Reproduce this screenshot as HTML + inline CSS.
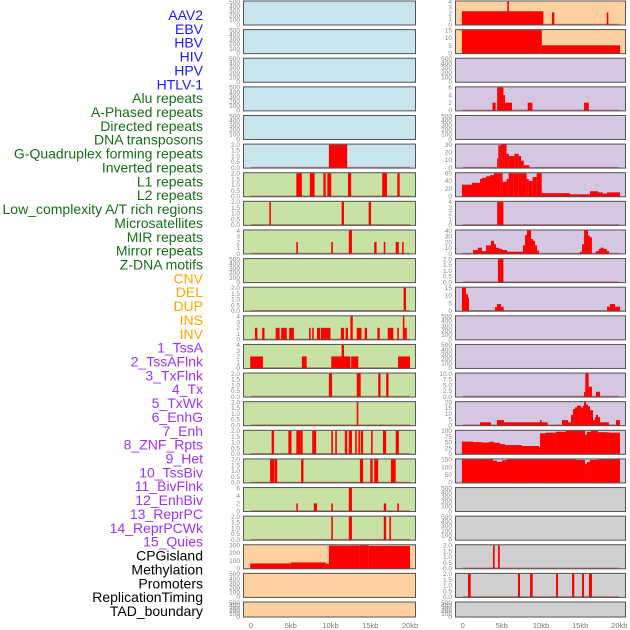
<!DOCTYPE html>
<html><head><meta charset="utf-8">
<style>
html,body{margin:0;padding:0;background:#fff;}
svg{display:block;font-family:"Liberation Sans",sans-serif;}
</style></head>
<body>
<svg id="chart" width="630" height="630" viewBox="0 0 630 630" xmlns="http://www.w3.org/2000/svg"></svg>
<script>
// ---------- data ----------
const trackLabels = ["AAV2","EBV","HBV","HIV","HPV","HTLV-1","Alu repeats","A-Phased repeats","Directed repeats","DNA transposons","G-Quadruplex forming repeats","Inverted repeats","L1 repeats","L2 repeats","Low_complexity A/T rich regions","Microsatellites","MIR repeats","Mirror repeats","Z-DNA motifs","CNV","DEL","DUP","INS","INV","1_TssA","2_TssAFlnk","3_TxFlnk","4_Tx","5_TxWk","6_EnhG","7_Enh","8_ZNF_Rpts","9_Het","10_TssBiv","11_BivFlnk","12_EnhBiv","13_ReprPC","14_ReprPCWk","15_Quies","CPGisland","Methylation","Promoters","ReplicationTiming","TAD_boundary"];
const labelColors = ["#1a1aff","#1a1aff","#1a1aff","#1a1aff","#1a1aff","#1a1aff","#157015","#157015","#157015","#157015","#157015","#157015","#157015","#157015","#157015","#157015","#157015","#157015","#157015","#ffa500","#ffa500","#ffa500","#ffa500","#ffa500","#a033ee","#a033ee","#a033ee","#a033ee","#a033ee","#a033ee","#a033ee","#a033ee","#a033ee","#a033ee","#a033ee","#a033ee","#a033ee","#a033ee","#a033ee","#000","#000","#000","#000","#000"];
const xTickValues = [0,5,10,15,20];
const xTickLabels = ["0","5kb","10kb","15kb","20kb"];

const T500=["0","100","200","300","400","500"], T2=["0.0","0.5","1.0","1.5","2.0"], T4=["0","1","2","3","4"];
const T6=["0","2","4","6"], T300=["0","100","200","300"], T15=["0","5","10","15"], T30=["0","10","20","30"];
const T60=["0","20","40","60"], T40=["0","10","20","30","40"], T10=["0.0","2.5","5.0","7.5","10.0"];
const T20=["0","5","10","15","20"], T100=["0","25","50","75","100"], T150=["0","50","100","150"];

// bars: [startKb, endKb, value]
const htlvBars=[[9.8,12.1,2]];
const aluBars=[[5.7,6.4,2],[7.4,8.0,2],[9.1,9.4,2],[9.6,10.1,2],[12.2,12.6,2],[16.5,17.1,2],[18.4,18.7,2]];
const aphasedBars=[[2.3,2.5,2],[11.4,11.7,2],[14.8,15.1,2]];
const directedBars=[[5.7,5.9,2],[10.1,10.3,2],[12.3,12.7,4],[15.5,15.8,2],[16.7,16.9,2],[18.2,18.6,2],[19.0,19.2,2]];
const gquadBars=[[19.2,19.5,2]];
const invertedBars=[[0.5,0.8,2],[1.4,1.7,2],[3.1,3.6,2],[3.8,4.5,2],[4.8,5.4,2],[7.3,7.5,2],[7.7,7.9,2],[8.3,8.7,2],[8.8,10.0,2],[11.3,11.7,2],[11.9,12.2,2],[12.5,12.8,4],[13.3,13.9,2],[14.3,14.6,2],[15.9,16.2,2],[17.2,17.9,2],[18.4,18.6,2],[19.1,19.3,4],[19.3,19.6,2]];
const lowcxBars=[[-0.1,1.5,2],[6.4,7.0,2],[10.1,12.5,2],[11.4,11.7,4],[12.6,13.5,2],[18.5,20.0,2]];
const microBars=[[9.8,10.2,2],[13.3,13.8,2],[16.0,16.3,2],[17.0,17.3,2]];
const mirBars=[[13.3,13.5,2]];
const mirrorBars=[[2.6,2.9,2],[4.7,5.1,2],[5.7,6.2,2],[6.2,6.5,2],[7.7,8.2,2],[10.1,10.3,2],[10.6,10.8,2],[11.8,12.1,2],[12.3,12.7,2],[13.1,13.3,2],[13.5,13.7,2],[13.8,14.1,2],[15.1,15.3,2],[16.6,17.0,2],[18.2,18.6,2]];
const zdnaBars=[[2.4,2.9,2],[2.95,3.3,2],[6.3,6.6,2],[13.7,14.1,2],[15.0,15.3,2],[15.5,16.0,2],[17.6,18.2,2]];
const cnvLeftBars=[[5.7,5.9,2],[7.9,8.3,2],[10.1,10.3,2],[12.3,12.7,6],[16.7,17.0,2],[18.4,18.6,2]];
const delLeftBars=[[10.1,10.3,2],[12.3,12.7,2],[16.7,17.0,2],[17.4,17.6,2]];
const orangeLeftBars=[[-0.1,5.0,63],[5.0,9.4,76],[9.4,9.8,59],[9.8,13.7,295],[13.7,14.8,300],[14.8,20.0,291]];

const r0Bars=[[-0.1,10.3,2.3],[5.7,5.9,4],[11.4,11.7,2.1],[18.4,18.6,2.1]];
const r1Bars=[[-0.1,10.1,18.8],[10.1,20.1,5.1]];
const r3Bars=[[3.8,4.2,2],[4.4,5.2,6],[5.2,5.4,4],[5.4,6.3,2],[8.3,8.9,2],[15.5,16.1,2]];
const r5Bars=[[4.4,4.55,12],[4.55,4.85,29],[4.85,5.1,32],[5.1,5.35,35],[5.35,5.6,32],[5.6,5.9,18],[5.9,6.6,15],[6.6,7.15,18],[7.15,7.45,15],[7.45,7.8,9],[7.8,8.5,3]];
const r6Bars=[[-0.1,1.19,30],[1.19,2.21,35],[2.21,2.46,45],[2.46,2.98,48],[2.98,3.49,52],[3.49,4.0,55],[4.0,4.5,60],[4.5,4.85,68],[4.85,5.1,60],[5.1,5.6,38],[5.6,5.87,45],[5.87,6.46,62],[6.46,7.15,60],[7.15,7.57,64],[7.57,8.17,68],[8.17,8.43,45],[8.43,8.94,40],[8.94,9.45,50],[9.45,10.09,68],[10.09,13.7,8],[13.7,16.26,5],[16.26,17.28,13],[17.28,17.9,10],[17.9,18.43,7],[18.43,20.1,10]];
const r7Bars=[[4.4,5.2,4]];
const r8Bars=[[1.32,1.95,6],[1.95,2.46,10],[2.46,2.98,4],[2.98,3.61,14],[3.61,4.0,22],[4.0,4.25,16],[4.25,4.64,10],[4.64,5.02,8],[5.02,5.66,6],[5.66,7.7,3],[7.7,7.96,14],[7.96,8.21,32],[8.21,8.73,41],[8.73,8.99,25],[8.99,9.24,22],[9.24,9.5,14],[9.5,9.75,5],[14.98,15.24,3],[15.24,15.5,16],[15.5,16.0,45],[16.0,16.25,31],[16.25,16.5,28],[17.0,17.4,4],[17.4,17.6,8],[17.6,18.0,10],[18.0,18.4,8],[18.4,18.7,4]];
const r9Bars=[[4.5,5.2,2]];
const r10Bars=[[-0.1,0.17,16.7],[0.17,0.42,15],[0.42,0.68,10.7],[0.68,0.8,8.6],[4.12,4.38,2.4],[4.38,4.89,4.3],[4.89,5.23,2.6],[18.43,18.8,2.6],[18.8,19.45,4.3],[19.45,20.1,2.6]];
const r13Bars=[[15.49,15.66,2],[15.66,16.09,10],[16.09,16.51,4.3],[17.02,17.54,2.1]];
const r14Bars=[[2.21,3.61,2.5],[4.38,5.27,4.4],[5.27,9.87,2.5],[9.87,10.09,4.4],[10.09,10.85,2.5],[12.68,13.45,4.4],[13.45,13.83,2.5],[13.83,14.09,9],[14.09,14.34,14],[14.34,14.6,15.5],[14.6,15.1,17],[15.1,15.36,15.5],[15.36,15.49,17],[15.49,15.75,22],[15.75,16.0,18],[16.0,16.26,16.5],[16.26,16.64,13],[16.64,16.9,4.4],[16.9,17.02,7],[17.02,17.28,9],[17.28,17.54,7],[17.54,18.69,2.5],[19.58,20.09,4.4]];
const r15Bars=[[-0.1,1.32,53],[1.32,2.46,51],[2.46,3.36,49],[3.36,4.0,52],[4.0,4.76,48],[4.76,5.4,42],[5.4,7.57,38],[7.57,9.74,34],[9.74,9.87,30],[9.87,10.64,89],[10.64,11.92,92],[11.92,13.19,96],[13.19,15.62,100],[15.62,15.87,83],[15.87,16.39,96],[16.39,17.28,100],[17.28,18.43,94],[18.43,18.8,93],[18.8,20.09,92]];
const r16Bars=[[-0.1,0.55,174],[0.55,1.57,182],[1.57,2.21,176],[2.21,2.59,166],[2.59,3.23,161],[3.23,3.87,150],[3.87,4.38,142],[4.38,5.02,134],[5.02,5.66,145],[5.66,8.72,155],[8.72,12.17,168],[12.17,13.83,163],[13.83,14.47,155],[14.47,15.62,147],[15.62,15.87,121],[15.87,16.26,134],[16.26,17.28,147],[17.28,18.3,155],[18.3,19.45,163],[19.45,20.09,158]];
const r19Bars=[[3.87,4.08,2],[4.51,4.73,2]];
const r20Bars=[[0.68,1.02,2],[7.06,7.32,2],[8.6,8.94,2],[11.92,12.17,2],[13.96,14.25,2],[15.24,15.49,2],[16.13,16.51,2]];

const leftTicks=[T500,T500,T500,T500,T500,T2,T2,T2,T4,T500,T2,T4,T4,T2,T2,T2,T2,T6,T2,T300,T500,T500];
const leftData=[[],[],[],[],[],htlvBars,aluBars,aphasedBars,directedBars,[],gquadBars,invertedBars,lowcxBars,microBars,mirBars,mirrorBars,zdnaBars,cnvLeftBars,delLeftBars,orangeLeftBars,[],[]];
const leftBg=["#c8e4ec","#c8e4ec","#c8e4ec","#c8e4ec","#c8e4ec","#c8e4ec","#c8e2a5","#c8e2a5","#c8e2a5","#c8e2a5","#c8e2a5","#c8e2a5","#c8e2a5","#c8e2a5","#c8e2a5","#c8e2a5","#c8e2a5","#c8e2a5","#c8e2a5","#ffd1a1","#ffd1a1","#ffd1a1"];
const rightTicks=[T4,T15,T500,T6,T500,T30,T60,T4,T40,T2,T15,T500,T500,T10,T20,T100,T150,T500,T500,T2,T2,T500];
const rightData=[r0Bars,r1Bars,[],r3Bars,[],r5Bars,r6Bars,r7Bars,r8Bars,r9Bars,r10Bars,[],[],r13Bars,r14Bars,r15Bars,r16Bars,[],[],r19Bars,r20Bars,[]];
const rightBg=["#ffd1a1","#ffd1a1","#d5c6e2","#d5c6e2","#d5c6e2","#d5c6e2","#d5c6e2","#d5c6e2","#d5c6e2","#d5c6e2","#d5c6e2","#d5c6e2","#d5c6e2","#d5c6e2","#d5c6e2","#d5c6e2","#d5c6e2","#d0d0d0","#d0d0d0","#d0d0d0","#d0d0d0","#d0d0d0"];

// ---------- drawing ----------
const NS="http://www.w3.org/2000/svg";
const svg=document.getElementById('chart');
function mk(tag,attrs,parent){const e=document.createElementNS(NS,tag);for(const k in attrs)e.setAttribute(k,attrs[k]);(parent||svg).appendChild(e);return e;}
const cols=[
 {x0:243,x1:416,origin:251,scale:7.95,tickRight:240,ticks:leftTicks,data:leftData,bg:leftBg,name:'left'},
 {x0:455,x1:626,origin:462.7,scale:7.83,tickRight:452,ticks:rightTicks,data:rightData,bg:rightBg,name:'right'}
];
function rowTop(i){return i*28.62+0.5;}
function rowH(i){return i===21?16:25;}

trackLabels.forEach((t,k)=>{
  const e=mk('text',{x:203,y:15+k*13.86+5,'text-anchor':'end','font-size':'14',fill:labelColors[k]});
  e.textContent=t;
  
  
});

cols.forEach(c=>{
  const xs=kb=>c.origin+kb*c.scale;
  for(let i=0;i<22;i++){
    const top=rowTop(i),h=rowH(i);
    const g=mk('g',{});
    
    
    mk('rect',{x:c.x0,y:top,width:c.x1-c.x0,height:h,fill:c.bg[i]},g);
    const ticks=c.ticks[i];
    const ymax=parseFloat(ticks[ticks.length-1]);
    const ys=v=>top+h-1-v/ymax*(h-2);
    const bars=c.data[i];
    if(bars.length){
      const bl=mk('line',{x1:xs(0),x2:xs(20),y1:ys(0),y2:ys(0),stroke:'rgba(170,40,40,0.55)','stroke-width':1.5},g);
      
      
    }
    bars.forEach(b=>{
      const y=Math.max(top,ys(Math.min(b[2],ymax)));
      const r=mk('rect',{x:xs(b[0]),y:y,width:Math.max(0.8,xs(b[1])-xs(b[0])),height:ys(0)-y+0.5,fill:'#ff0000'},g);
      
      
    });
    mk('rect',{x:c.x0+0.5,y:top+0.5,width:c.x1-c.x0-1,height:h-1,fill:'none',stroke:'#555','stroke-width':1},g);
    ticks.forEach(t=>{
      const e=mk('text',{x:c.tickRight,y:ys(parseFloat(t))+2.3,'text-anchor':'end','font-size':'6.5',fill:'#888'},g);
      e.textContent=t;
      
      
    });
  }
  xTickValues.forEach((v,j)=>{
    const e=mk('text',{x:xs(v),y:628,'text-anchor':'middle','font-size':'7.5',fill:'#777'});
    e.textContent=xTickLabels[j];
    
    
  });
});
</script>
</body></html>
